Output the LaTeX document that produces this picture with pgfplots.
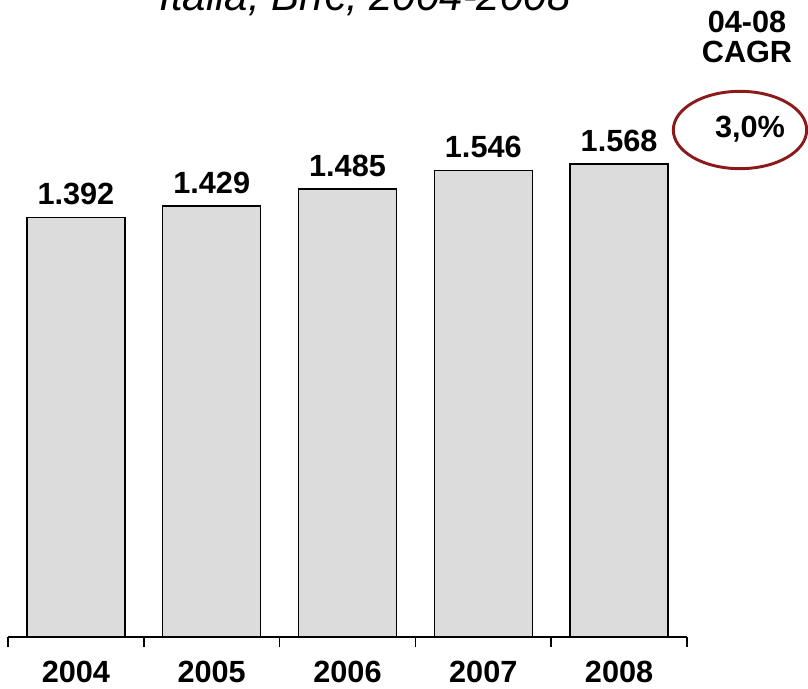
\documentclass[border=0pt]{standalone}
\usepackage{pgfplots}
\pgfplotsset{compat=1.18}
\usepackage{fontspec}
\setmainfont{Liberation Sans}
\definecolor{barfill}{HTML}{DCDCDC}
\definecolor{cagr}{HTML}{8B1A1A}
\newcommand{\lbl}{\bfseries\fontsize{23}{27}\selectfont}
\begin{document}
\begin{tikzpicture}
\begin{axis}[
    at={(0,0)}, anchor=south west,
    scale only axis,
    width=509.25pt,
    height=452.4pt,
    xmin=-0.5, xmax=4.5,
    ymin=0, ymax=2000,
    axis x line=bottom,
    axis y line=none,
    axis line style={-, line width=1.1pt},
    xtick={0,1,2,3,4},
    xticklabels={2004,2005,2006,2007,2008},
    major tick length=0pt,
    xticklabel style={font=\lbl, anchor=base, inner sep=0pt, yshift=-34.5pt},
    extra x ticks={-0.5,0.5,1.5,2.5,3.5,4.5},
    extra x tick labels={},
    extra x tick style={tick align=outside, major tick length=7.5pt,
        tick style={line width=1.1pt, black}},
    ytick=\empty,
    /pgf/number format/assume math mode=true,
    /pgf/number format/1000 sep={.},
    ybar,
    bar width=73.5pt,
    nodes near coords,
    every node near coord/.append style={font=\lbl, anchor=base, yshift=9.75pt},
    clip=false,
]
\addplot[fill=barfill, draw=black, line width=1pt] coordinates {
(0,1392)
(1,1429)
(2,1485)
(3,1546)
(4,1568)
};
\end{axis}
% title (cut at top edge like the reference)
\node[anchor=base, font=\itshape\fontsize{31.5}{36}\selectfont] at (267.75pt,469.5pt) {Italia, Bn€, 2004-2008};
% CAGR annotation
\node[anchor=base, font=\lbl] at (554.25pt,453pt) {04-08};
\node[anchor=base, font=\lbl] at (554.25pt,430.5pt) {CAGR};
\draw[cagr, line width=2.2pt] (549pt,380.25pt) ellipse [x radius=50pt, y radius=29pt];
\node[anchor=base, font=\lbl] at (556.5pt,374.25pt) {3,0\%};
\pgfresetboundingbox
\useasboundingbox (-6pt,-39pt) rectangle (600pt,477.75pt);
\end{tikzpicture}
\end{document}
